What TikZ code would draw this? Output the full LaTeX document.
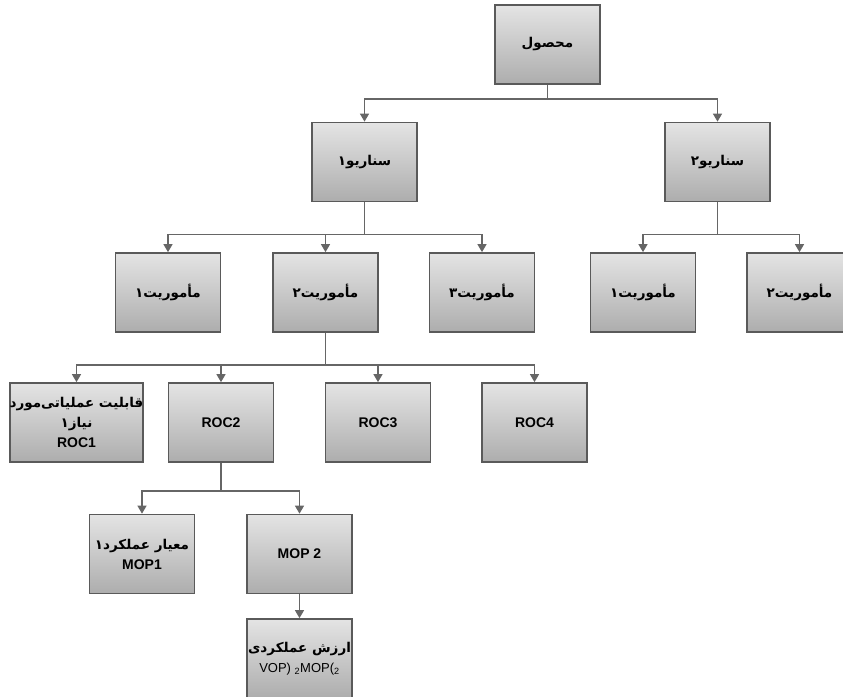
\documentclass[tikz,border=0pt]{standalone}
\usepackage{fontspec}
\setmainfont{Liberation Sans}
\newfontfamily\arabicfont[Script=Arabic]{DejaVu Sans}
\TeXXeTstate=1
\usetikzlibrary{arrows.meta}
\definecolor{boxline}{HTML}{5A5A5A}
\definecolor{boxtop}{HTML}{E4E4E4}
\definecolor{boxbot}{HTML}{ADADAD}
\definecolor{conline}{HTML}{666666}
\newcommand{\ar}[1]{{\arabicfont\bfseries\beginR #1\endR}}
\newcommand{\lt}[1]{{\fontsize{14}{20}\selectfont\bfseries #1}}
\begin{document}
\begin{tikzpicture}[x=1pt,y=-1pt,
  box/.style={draw=boxline, line width=1.7pt, top color=boxtop, bottom color=boxbot,
    minimum width=105pt, minimum height=79pt, inner sep=0pt, align=center,
    font=\fontsize{13.5}{20}\selectfont},
  conn/.style={draw=conline, line width=1.3pt, -{Triangle[length=8pt,width=9pt]}}]
\useasboundingbox (0,0) rectangle (843,696);
\fill[white] (0,0) rectangle (843,696);
% nodes
\node[box] (A) at (547.5,44.5) {\ar{محصول}};
\node[box] (S1) at (364.5,162) {\ar{سناریو۱}};
\node[box] (S2) at (717.5,162) {\ar{سناریو۲}};
\node[box] (M1) at (168,292.5) {\ar{مأموریت۱}};
\node[box] (M2) at (325.5,292.5) {\ar{مأموریت۲}};
\node[box] (M3) at (482,292.5) {\ar{مأموریت۳}};
\node[box] (M4) at (643,292.5) {\ar{مأموریت۱}};
\node[box] (M5) at (799.5,292.5) {\ar{مأموریت۲}};
\node[box, minimum width=133pt] (R1) at (76.5,422.5) {\ar{قابلیت عملیاتی^^^^200cمورد}\\ \ar{نیاز۱}\\ \lt{ROC1}};
\node[box] (R2) at (221,422.5) {\lt{ROC2}};
\node[box] (R3) at (378,422.5) {\lt{ROC3}};
\node[box] (R4) at (534.5,422.5) {\lt{ROC4}};
\node[box] (P1) at (142,554) {\ar{معیار عملکرد۱}\\ \lt{MOP1}};
\node[box] (P2) at (299.5,554) {\lt{MOP 2}};
\node[box] (V) at (299.5,658.5) {\ar{ارزش عملکردی}\\ {\fontsize{13}{20}\selectfont VOP) \textsubscript{2}MOP(\textsubscript{2}}};
% connectors
\draw[conn] (A.south) -- ++(0,14) -| (S1.north);
\draw[conn] (A.south) -- ++(0,14) -| (S2.north);
\draw[conn] (S1.south) -- ++(0,32) -| (M1.north);
\draw[conn] (S1.south) -- ++(0,32) -| (M2.north);
\draw[conn] (S1.south) -- ++(0,32) -| (M3.north);
\draw[conn] (S2.south) -- ++(0,32) -| (M4.north);
\draw[conn] (S2.south) -- ++(0,32) -| (M5.north);
\draw[conn] (M2.south) -- ++(0,32) -| (R1.north);
\draw[conn] (M2.south) -- ++(0,32) -| (R2.north);
\draw[conn] (M2.south) -- ++(0,32) -| (R3.north);
\draw[conn] (M2.south) -- ++(0,32) -| (R4.north);
\draw[conn] (R2.south) -- ++(0,28) -| (P1.north);
\draw[conn] (R2.south) -- ++(0,28) -| (P2.north);
\draw[conn] (P2.south) -- (V.north);
\end{tikzpicture}
\end{document}
